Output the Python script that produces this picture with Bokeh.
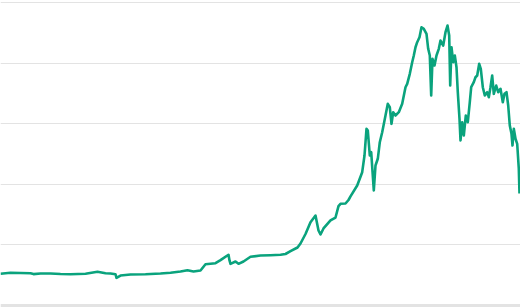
from bokeh.plotting import figure
from bokeh.models import Range1d, Span, FixedTicker
from bokeh.embed import file_html
from bokeh.resources import INLINE

# time index (sample position) and series values
t = [0, 10, 20, 30, 33, 40, 50, 60, 70, 85, 97, 105, 110, 115, 116, 120, 130, 145,
     160, 170, 180, 187, 193, 200, 205, 215, 220, 228, 229, 230, 235, 238, 243, 250,
     260, 270, 280, 285, 290, 297, 300, 305, 310, 315, 318, 320, 323, 330, 335, 338,
     340, 345, 348, 350, 356.7, 361.7, 364, 366, 367.3, 369.3, 370.7, 373.3, 375,
     377.3, 379.3, 381.7, 385, 387.3, 389.3, 391, 392.7, 395, 398.3, 401.7, 405,
     406.7, 409.3, 411.7, 413.3, 415, 416.7, 419, 421, 423.3, 426, 427.7, 429.3,
     430.7, 432, 434, 436, 438.3, 440, 442.7, 445, 447, 448.7, 449.7, 451, 452.7,
     454.3, 456, 457.3, 459, 460, 461.7, 463.3, 465.3, 467.3, 469.3, 470.7, 473.3,
     475, 476.7, 478.7, 480.3, 482.3, 484.3, 486.7, 488.3, 490, 491.7, 493.3, 495.7,
     497.7, 500, 502.3, 504, 506, 507.7, 509.3, 511, 512, 513.3, 515, 516.7, 518.3, 519]
price = [0.523, 0.540, 0.536, 0.533, 0.518, 0.528, 0.528, 0.520, 0.516, 0.523, 0.556,
         0.533, 0.528, 0.516, 0.457, 0.495, 0.512, 0.516, 0.528, 0.540, 0.561, 0.582,
         0.561, 0.578, 0.681, 0.698, 0.748, 0.837, 0.743, 0.688, 0.726, 0.688, 0.726,
         0.804, 0.825, 0.830, 0.837, 0.850, 0.896, 0.957, 1.023, 1.180, 1.375, 1.485,
         1.238, 1.172, 1.271, 1.403, 1.452, 1.639, 1.678, 1.683, 1.741, 1.800, 1.980,
         2.200, 2.475, 2.916, 2.888, 2.475, 2.530, 1.898, 2.310, 2.421, 2.695, 2.860,
         3.135, 3.328, 3.272, 2.998, 3.190, 3.135, 3.190, 3.328, 3.602, 3.658, 3.823,
         4.015, 4.125, 4.262, 4.345, 4.427, 4.592, 4.566, 4.483, 4.236, 4.125, 3.465,
         4.071, 3.960, 4.125, 4.236, 4.373, 4.290, 4.510, 4.620, 4.455, 3.630, 4.262,
         4.015, 4.125, 3.932, 3.520, 3.081, 2.723, 3.025, 2.805, 3.135, 3.025, 3.355,
         3.602, 3.685, 3.767, 3.795, 3.988, 3.906, 3.602, 3.465, 3.520, 3.437, 3.602,
         3.795, 3.493, 3.630, 3.520, 3.576, 3.355, 3.493, 3.520, 3.300, 2.970, 2.833,
         2.640, 2.916, 2.751, 2.668, 2.256, 1.848]
grid_values = [1, 2, 3, 4, 5]

p = figure(width=520, height=307, output_backend="svg", toolbar_location=None,
           x_range=Range1d(0, 520), y_range=Range1d(-0.033, 5.033),
           min_border=0, min_border_left=0, min_border_right=0,
           min_border_top=0, min_border_bottom=0)
p.xaxis.visible = False
p.yaxis.visible = False
p.xgrid.visible = False
p.ygrid.ticker = FixedTicker(ticks=grid_values)
p.ygrid.grid_line_color = "#e3e3e3"
p.ygrid.grid_line_width = 1
p.outline_line_color = None
p.background_fill_color = "white"
p.border_fill_color = "white"

p.add_layout(Span(location=0, dimension="width", line_color="#e3e3e3", line_width=3))

p.line(t, price, line_color="#0aa37d", line_width=2.6, line_join="round")

open("out.html", "w").write(file_html(p, INLINE))
